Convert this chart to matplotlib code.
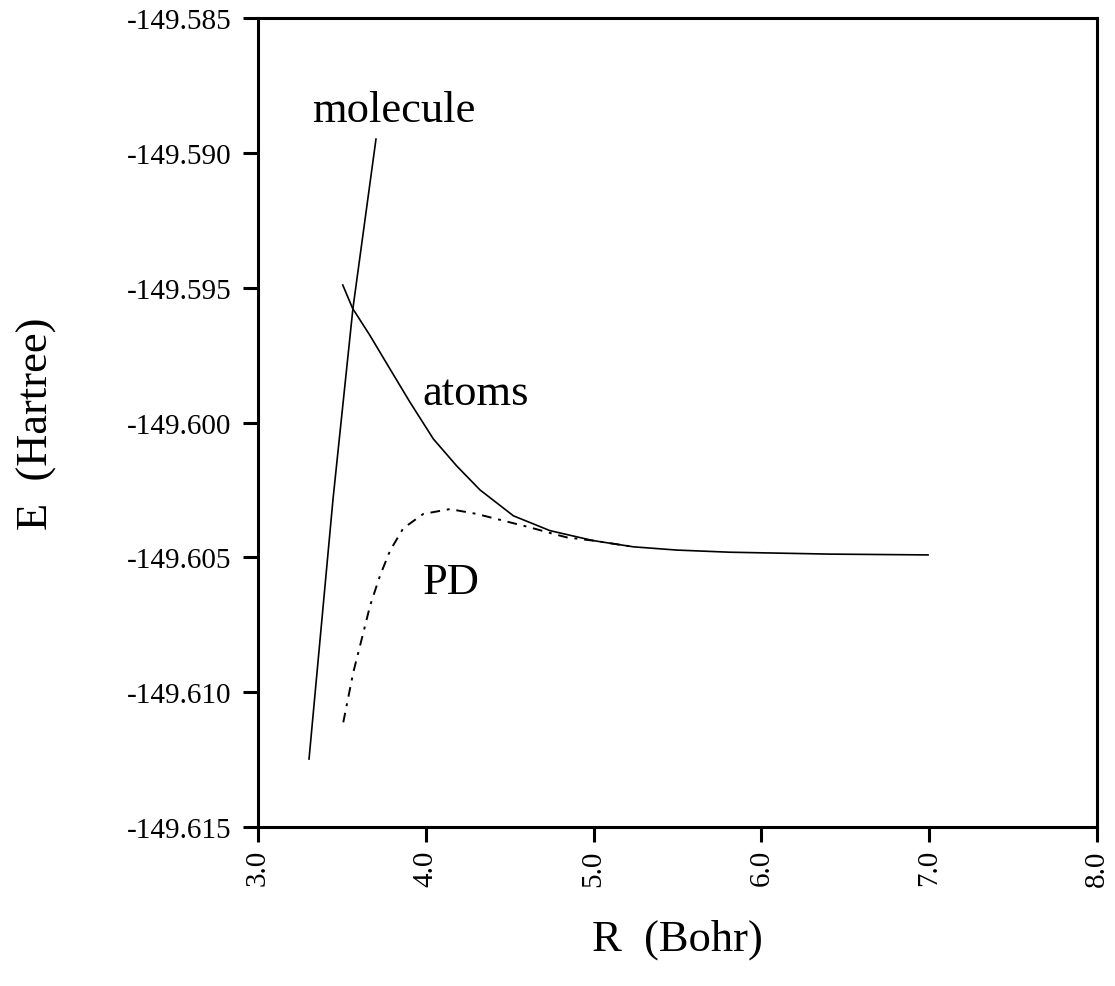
import numpy as np
import matplotlib.pyplot as plt

plt.rcParams['font.family'] = ['Liberation Serif', 'DejaVu Serif']

# molecule curve (R in Bohr, E in Hartree)
mol_r = [3.304, 3.447, 3.566, 3.703]
mol_e = [-149.61248, -149.60284, -149.59575, -149.58949]

# atoms curve
atoms_r = [3.505, 3.564, 3.668, 3.787, 3.906, 4.045, 4.184, 4.323, 4.522, 4.740,
           4.998, 5.237, 5.495, 5.813, 6.409, 6.993]
atoms_e = [-149.59490, -149.59577, -149.59678, -149.59802, -149.59925, -149.60061,
           -149.60161, -149.60250, -149.60346, -149.60401, -149.60438, -149.60461,
           -149.60473, -149.60481, -149.60488, -149.60491]

# PD curve
pd_r = [3.508, 3.568, 3.618, 3.668, 3.727, 3.787, 3.866, 3.985, 4.144, 4.303,
        4.462, 4.621, 4.760, 4.840, 4.998, 5.237]
pd_e = [-149.61112, -149.60926, -149.60803, -149.60679, -149.60568, -149.60475,
        -149.60392, -149.60339, -149.60321, -149.60339, -149.60364, -149.60389,
        -149.60413, -149.60426, -149.60438, -149.60461]

xticks = [3.0, 4.0, 5.0, 6.0, 7.0, 8.0]
yticks = [-149.615, -149.610, -149.605, -149.600, -149.595, -149.590, -149.585]

fig = plt.figure(figsize=(11.15, 9.87), dpi=100)
ax = fig.add_axes([0.2314, 0.1611, 0.7525, 0.8196])

ax.plot(mol_r, mol_e, color='black', lw=1.2)
ax.plot(atoms_r, atoms_e, color='black', lw=1.2)
ax.plot(pd_r, pd_e, color='black', lw=1.4, linestyle=(0, (5, 3.5, 1.5, 3.5)))

ax.text(3.32, -149.5884, 'molecule', fontsize=32, ha='left', va='center')
ax.text(3.98, -149.5989, 'atoms', fontsize=32, ha='left', va='center')
ax.text(3.98, -149.6059, 'PD', fontsize=32, ha='left', va='center')

ax.set_xlim(3.0, 8.0)
ax.set_ylim(-149.615, -149.585)
ax.set_xticks(xticks)
ax.set_xticklabels([f'{t:.1f}' for t in xticks], rotation=90, fontsize=21)
ax.set_yticks(yticks)
ax.set_yticklabels([f'{t:.3f}' for t in yticks], fontsize=21)
ax.tick_params(direction='out', length=11, width=2.2, pad=5)
ax.tick_params(axis='y', pad=8)

for s in ax.spines.values():
    s.set_linewidth(2.2)

ax.set_xlabel('R  (Bohr)', fontsize=32, labelpad=24)
ax.set_ylabel('E  (Hartree)', fontsize=32, labelpad=50)

fig.savefig('out.png', dpi=100)
